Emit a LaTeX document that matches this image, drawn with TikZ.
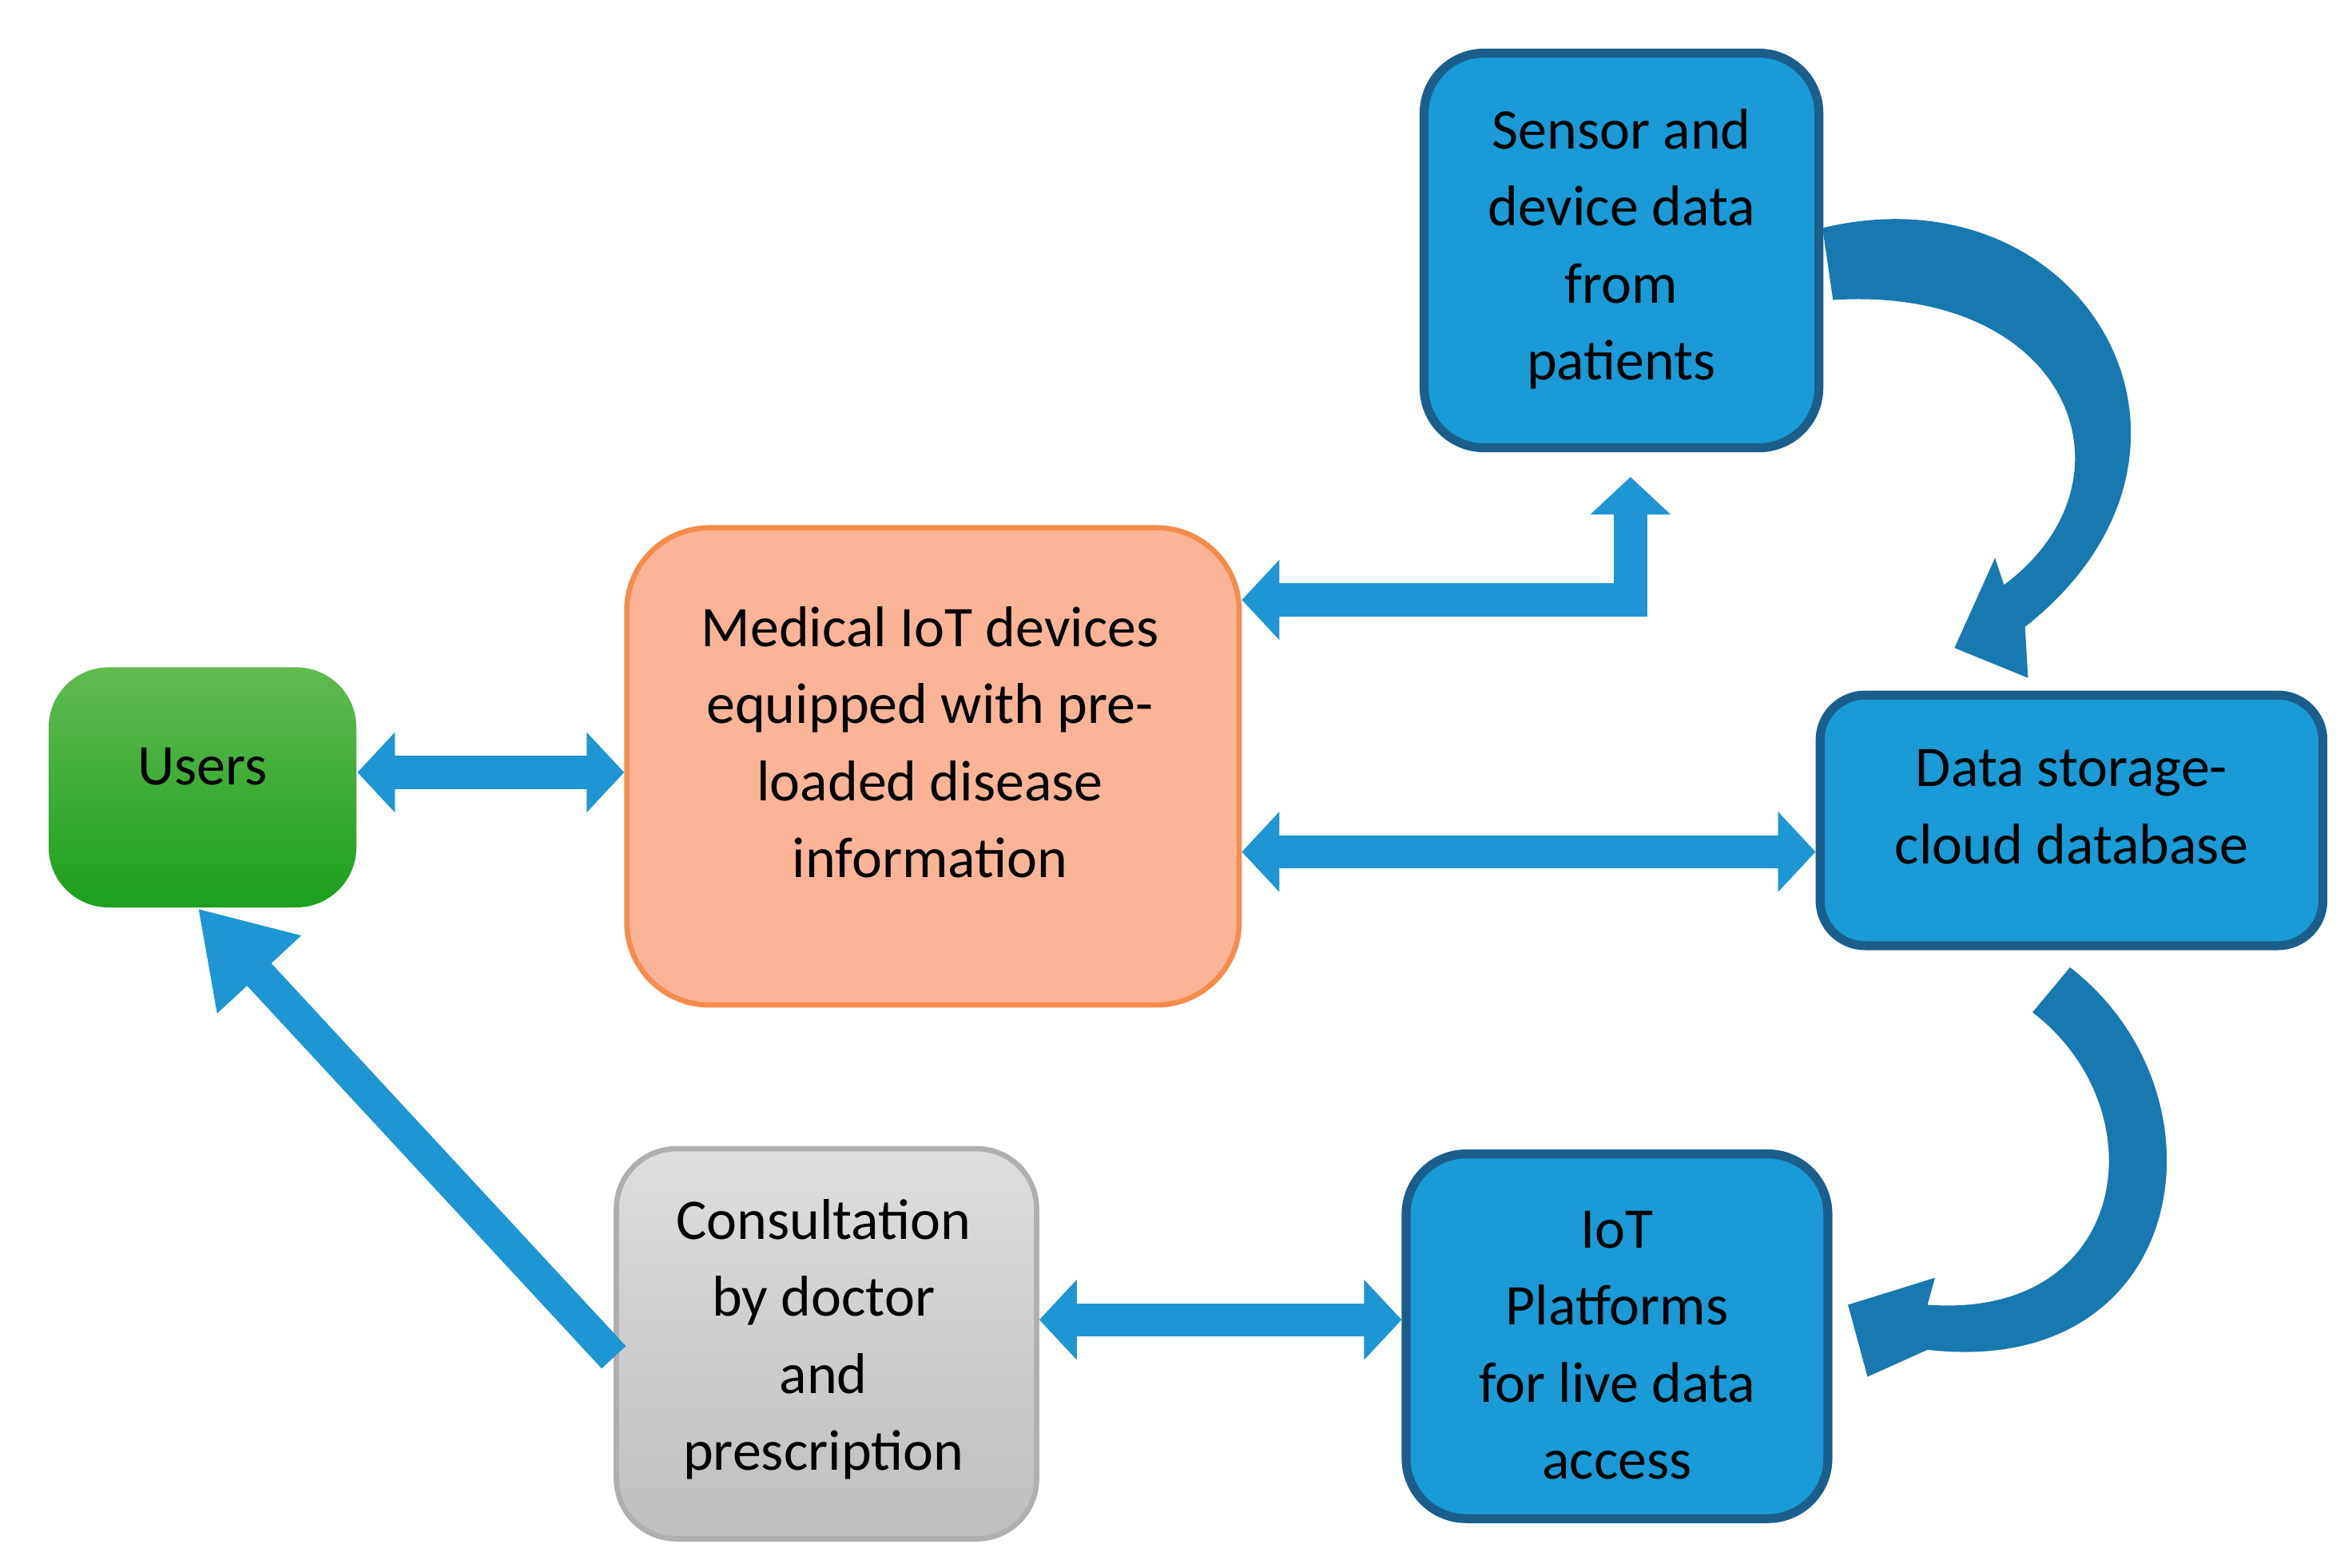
\documentclass[tikz,border=0pt]{standalone}
\usepackage{fontspec}
\setmainfont{Carlito}
\usetikzlibrary{arrows.meta}
\definecolor{bl}{HTML}{1A9AD6}
\definecolor{bld}{HTML}{1B5E8C}
\definecolor{arr}{HTML}{1E96D4}
\definecolor{carr}{HTML}{1878B0}
\begin{document}
\begin{tikzpicture}[x=0.01cm,y=-0.01cm,
 box/.style={rounded corners=0.4cm,inner sep=0pt},
 txt/.style={align=center,inner sep=0pt,font=\fontsize{10.9pt}{14.6pt}\selectfont},
 bluebox/.style={box,fill=bl,draw=bld,line width=1.7pt},
 dbl/.style={draw=arr,line width=0.22cm,{Triangle[length=0.25cm,width=0.52cm]}-{Triangle[length=0.25cm,width=0.52cm]}}]
\useasboundingbox (0,0) rectangle (1568,1045);
\node[box,top color={rgb,255:red,96;green,186;blue,80},bottom color={rgb,255:red,28;green,160;blue,28},minimum width=2.05cm,minimum height=1.6cm] (users) at (135,525) {};
\node[txt] (users-t) at (135,511) {Users};
\node[box,rounded corners=0.55cm,fill={rgb,255:red,252;green,180;blue,150},draw={rgb,255:red,245;green,140;blue,76},line width=1pt,minimum width=4.08cm,minimum height=3.18cm] (med) at (622,511) {};
\node[txt] (med-t) at (620,495) {Medical IoT devices\\equipped with pre-\\loaded disease\\information};
\node[bluebox,minimum width=2.63cm,minimum height=2.63cm] (sens) at (1081,167) {};
\node[txt] (sens-t) at (1081,166) {Sensor and\\device data\\from\\patients};
\node[bluebox,rounded corners=0.3cm,minimum width=3.35cm,minimum height=1.67cm] (data) at (1381,547) {};
\node[txt] (data-t) at (1381,538) {Data storage-\\cloud database};
\node[bluebox,minimum width=2.81cm,minimum height=2.43cm] (iot) at (1078,891) {};
\node[txt] (iot-t) at (1078,897) {IoT\\Platforms\\for live data\\access};
\node[box,top color={rgb,255:red,222;green,222;blue,222},bottom color={rgb,255:red,190;green,190;blue,190},draw={rgb,255:red,175;green,175;blue,175},line width=1pt,minimum width=2.8cm,minimum height=2.6cm] (cons) at (551,896) {};
\node[txt] (cons-t) at (549,893) {Consultation\\by doctor\\and\\prescription};
% straight arrows
\draw[dbl] (users.east |- 0,515) -- (med.west |- 0,515);
\draw[dbl] (med.east |- 0,568) -- (data.west |- 0,568);
\draw[dbl] (cons.east |- 0,880) -- (iot.west |- 0,880);
\draw[dbl,line join=miter] (med.east |- 0,400) -- (1087,400) -- (1087,318);
\draw[draw=arr,line width=0.22cm,-{Triangle[length=0.6cm,width=0.72cm]}] (cons.west |- 0,905) -- (users.south -| 132,0);
% curved arrows
\fill[carr] (1215,152) .. controls (1390,110) and (1500,300) .. (1350,418) -- (1352,452) -- (1303,432) -- (1330,372) -- (1336,390) .. controls (1430,320) and (1380,190) .. (1222,200) -- cycle;
\fill[carr] (1380,645) .. controls (1490,730) and (1460,920) .. (1285,900) -- (1245,918) -- (1232,870) -- (1290,852) -- (1285,870) .. controls (1420,880) and (1440,740) .. (1355,675) -- cycle;
\end{tikzpicture}
\end{document}
